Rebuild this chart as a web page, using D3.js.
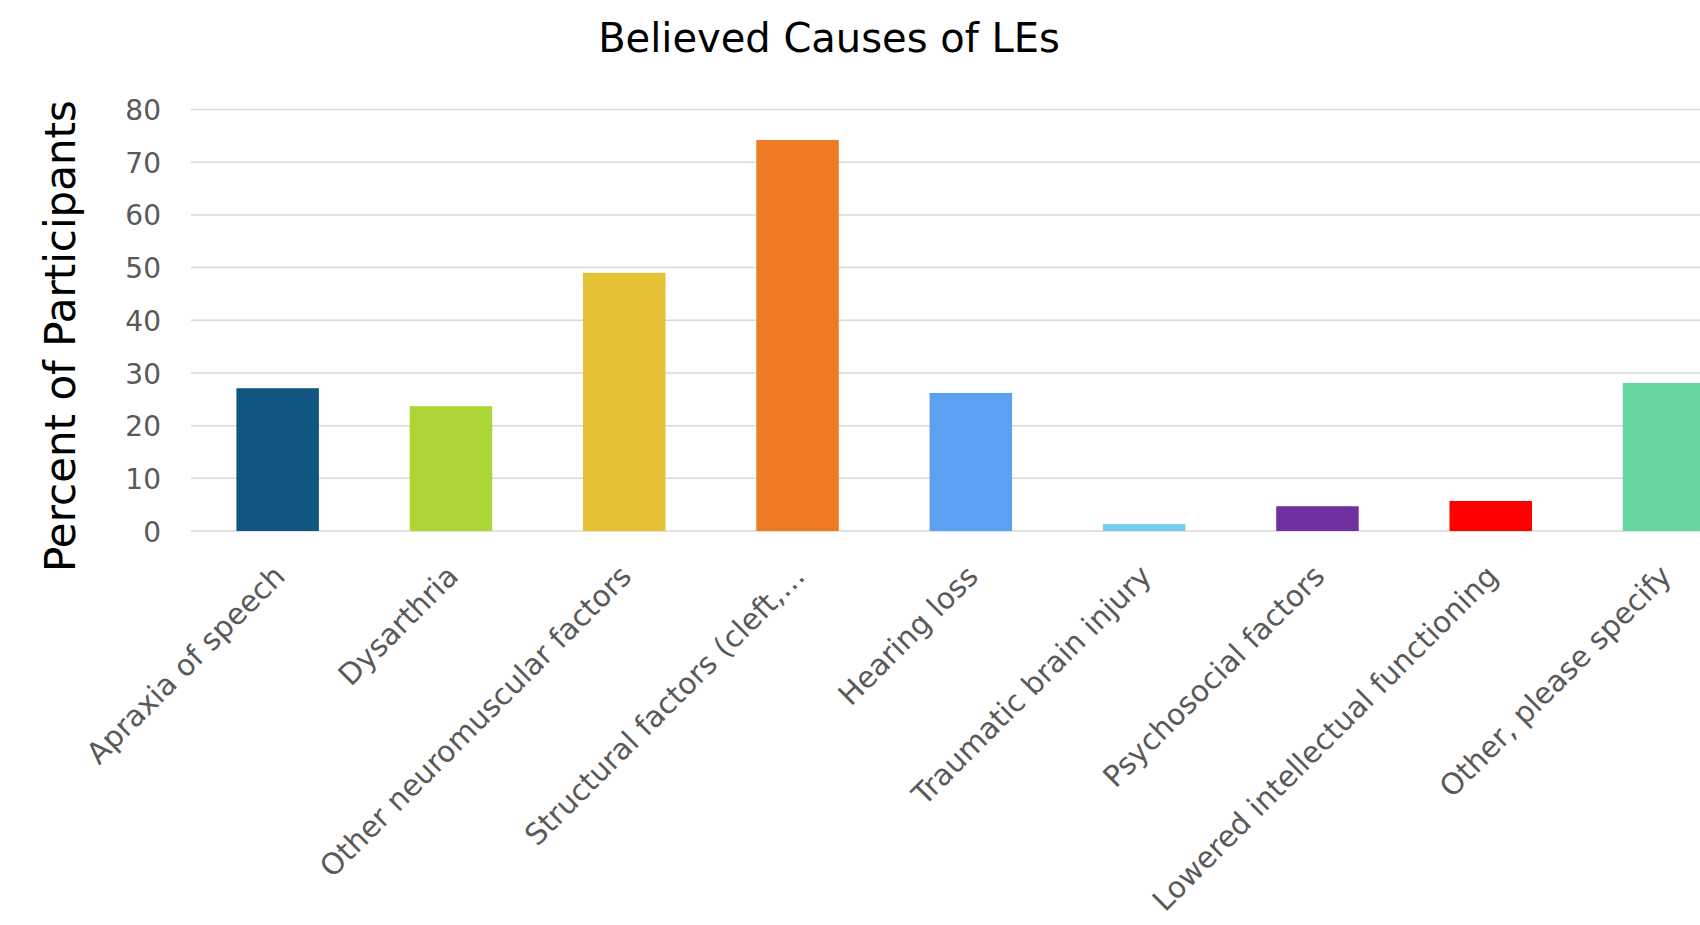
<!DOCTYPE html>
<html>
<head>
<meta charset="utf-8">
<script src="https://cdn.jsdelivr.net/npm/d3@7"></script>
<style>
  body { margin: 0; background: #fff; }
  text { font-family: "DejaVu Sans", sans-serif; }
  .grid line { stroke: #d9d9d9; stroke-width: 1.5; }
  .tick-label { fill: #595959; }
</style>
</head>
<body>
<svg id="chart" width="1700" height="925"></svg>
<script>
'use strict';

const categories = [
  'Apraxia of speech', 'Dysarthria', 'Other neuromuscular factors',
  'Structural factors (cleft,\u2026', 'Hearing loss', 'Traumatic brain injury',
  'Psychosocial factors', 'Lowered intellectual functioning', 'Other, please specify'];
const percents = [27.1, 23.7, 49.0, 74.2, 26.2, 1.3, 4.7, 5.7, 28.1];
const barColours = [
  '#115680', '#add535', '#e5c135', '#ee7a23', '#5ca0f4',
  '#72cdec', '#7030a0', '#ff0000', '#66d5a0'];
const yTicks = [0, 10, 20, 30, 40, 50, 60, 70, 80];

const svg = d3.select('#chart');

// plot area runs past the right edge, the last bar is clipped like the original
const margin = {top: 109.5, left: 191, bottom: 531};
const step = 173.3;
const plotRight = margin.left + step * categories.length;

const x = d3.scaleBand()
  .domain(categories)
  .range([margin.left, plotRight])
  .paddingInner(0.524)
  .paddingOuter(0.262);

const y = d3.scaleLinear()
  .domain([0, 80])
  .range([margin.bottom, margin.top]);

// gridlines
svg.append('g')
  .attr('class', 'grid')
  .selectAll('line')
  .data(yTicks)
  .enter()
  .append('line')
  .attr('x1', margin.left)
  .attr('x2', plotRight)
  .attr('y1', d => y(d))
  .attr('y2', d => y(d));

// bars
svg.append('g')
  .selectAll('rect')
  .data(percents)
  .enter()
  .append('rect')
  .attr('x', (d, i) => x(categories[i]))
  .attr('y', d => y(d))
  .attr('width', x.bandwidth())
  .attr('height', d => y(0) - y(d))
  .attr('fill', (d, i) => barColours[i]);

// y axis labels
const yAxis = d3.axisLeft(y).tickValues(yTicks).tickSize(0).tickPadding(0);
const yAxisG = svg.append('g')
  .attr('transform', 'translate(161,0)')
  .call(yAxis);
yAxisG.select('.domain').remove();
yAxisG.selectAll('text')
  .attr('class', 'tick-label')
  .style('font-size', '28px')
  .style('font-family', '"DejaVu Sans", sans-serif')
  .attr('dy', '0.36em');

// x axis labels, rotated
const xAxis = d3.axisBottom(x).tickSize(0).tickPadding(0);
const xAxisG = svg.append('g')
  .attr('transform', 'translate(0,' + margin.bottom + ')')
  .call(xAxis);
xAxisG.select('.domain').remove();
xAxisG.selectAll('text')
  .attr('class', 'tick-label')
  .style('font-size', '29.5px')
  .style('font-family', '"DejaVu Sans", sans-serif')
  .style('text-anchor', 'end')
  .attr('y', 0)
  .attr('dy', 0)
  .attr('transform', 'translate(9,47) rotate(-45)');

// title
svg.append('text')
  .attr('x', 829)
  .attr('y', 52)
  .style('text-anchor', 'middle')
  .style('font-size', '40px')
  .style('fill', '#000')
  .text('Believed Causes of LEs');

// y axis title
svg.append('text')
  .attr('transform', 'translate(75,336) rotate(-90)')
  .style('text-anchor', 'middle')
  .style('font-size', '42px')
  .style('fill', '#000')
  .text('Percent of Participants');
</script>
</body>
</html>
